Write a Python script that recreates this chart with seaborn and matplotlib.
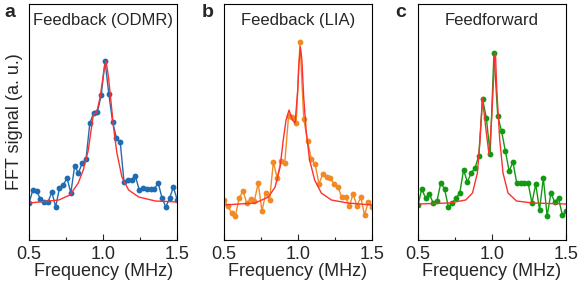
import numpy as np
import pandas as pd
import seaborn as sns
import matplotlib.pyplot as plt
from matplotlib.ticker import MultipleLocator

#-------------------------DATOS---------------------------------------------------
freq = np.linspace(0.5, 1.5, 40)

odmr = [37, 50, 49, 41, 38, 38, 48, 33, 52, 55, 62, 47, 74, 67, 77, 81, 117, 127, 128, 145,
        179, 146, 118, 102, 98, 58, 60, 60, 64, 50, 52, 51, 51, 51, 57, 42, 33, 42, 53, 40]
lia = [40, 34, 27, 24, 42, 49, 37, 41, 39, 57, 29, 47, 40, 78, 62, 79, 77, 124, 123, 117,
       198, 121, 99, 81, 76, 56, 66, 63, 62, 56, 53, 43, 43, 34, 46, 34, 43, 25, 38, 33]
ffwd = [35, 51, 42, 46, 37, 39, 57, 51, 33, 37, 42, 47, 70, 58, 67, 72, 84, 141, 122, 86,
        187, 124, 109, 89, 69, 78, 57, 57, 57, 57, 37, 56, 30, 62, 24, 47, 38, 42, 25, 29]

# curvas de ajuste (rojo)
fit_a_x = [0.5, 0.70, 0.776, 0.832, 0.866, 0.90, 0.919, 0.934, 0.957, 0.98, 1.009, 1.02,
           1.036, 1.054, 1.07, 1.093, 1.127, 1.172, 1.24, 1.353, 1.5]
fit_a_y = [37, 40, 45, 57, 70, 90, 110, 125, 128, 143, 173, 179, 163, 137, 113, 87, 63, 50,
           43, 39, 38]
fit_b_x = [0.5, 0.71, 0.80, 0.845, 0.879, 0.90, 0.919, 0.939, 0.962, 0.98, 0.998, 1.005,
           1.016, 1.026, 1.038, 1.056, 1.078, 1.112, 1.157, 1.225, 1.336, 1.5]
fit_b_y = [35, 37, 43, 53, 73, 100, 120, 130, 120, 117, 150, 175, 193, 180, 143, 107, 80,
           60, 47, 40, 37, 35]
fit_c_x = [0.5, 0.709, 0.822, 0.868, 0.901, 0.919, 0.935, 0.957, 0.98, 0.998, 1.016, 1.023,
           1.032, 1.052, 1.074, 1.108, 1.165, 1.277, 1.5]
fit_c_y = [36, 37, 40, 47, 67, 100, 142, 113, 85, 123, 180, 187, 150, 100, 67, 47, 39, 37, 36]

titles = ['Feedback (ODMR)', 'Feedback (LIA)', 'Feedforward']
letters = ['a', 'b', 'c']
colors = ['#1f6db0', '#f08a24', '#119a11']

#-------------------------FIGURA--------------------------------
sns.set_style('white')
plt.rcParams['font.family'] = ['Liberation Sans', 'DejaVu Sans']

fig = plt.figure(figsize=(5.81, 2.88), dpi=100)
lefts = [0.050, 0.3855, 0.7194]
letter_x = [0.008, 0.347, 0.681]

series = [odmr, lia, ffwd]
fits = [(fit_a_x, fit_a_y), (fit_b_x, fit_b_y), (fit_c_x, fit_c_y)]

for i in range(3):
    ax = fig.add_axes([lefts[i], 0.1667, 0.255, 0.819])
    df = pd.DataFrame({'f': freq, 's': series[i]})
    sns.lineplot(data=df, x='f', y='s', ax=ax, color=colors[i], lw=1.0, marker='o',
                 markersize=4.2, markeredgewidth=0)
    sns.lineplot(x=fits[i][0], y=fits[i][1], ax=ax, color='#ff3030', lw=1.0)
    ax.set_xlim(0.5, 1.5)
    ax.set_ylim(0, 236)
    ax.set_yticks([])
    ax.xaxis.set_major_locator(MultipleLocator(0.5))
    ax.xaxis.set_minor_locator(MultipleLocator(0.25))
    ax.tick_params(axis='x', which='major', direction='in', length=4, width=0.8,
                   labelsize=13, pad=4, bottom=True)
    ax.tick_params(axis='x', which='minor', direction='in', length=2, width=0.8, bottom=True)
    ax.set_xlabel('Frequency (MHz)', fontsize=13, labelpad=0)
    if i == 0:
        ax.set_ylabel('FFT signal (a. u.)', fontsize=13, labelpad=4)
    else:
        ax.set_ylabel('')
    for sp in ax.spines.values():
        sp.set_color('black')
        sp.set_linewidth(0.8)
    ax.text(0.5, 0.93, titles[i], transform=ax.transAxes, ha='center', va='center',
            fontsize=12)
    fig.text(letter_x[i], 0.955, letters[i], fontsize=14, fontweight='bold',
             ha='left', va='center')

fig.savefig('out.png', dpi=100)
